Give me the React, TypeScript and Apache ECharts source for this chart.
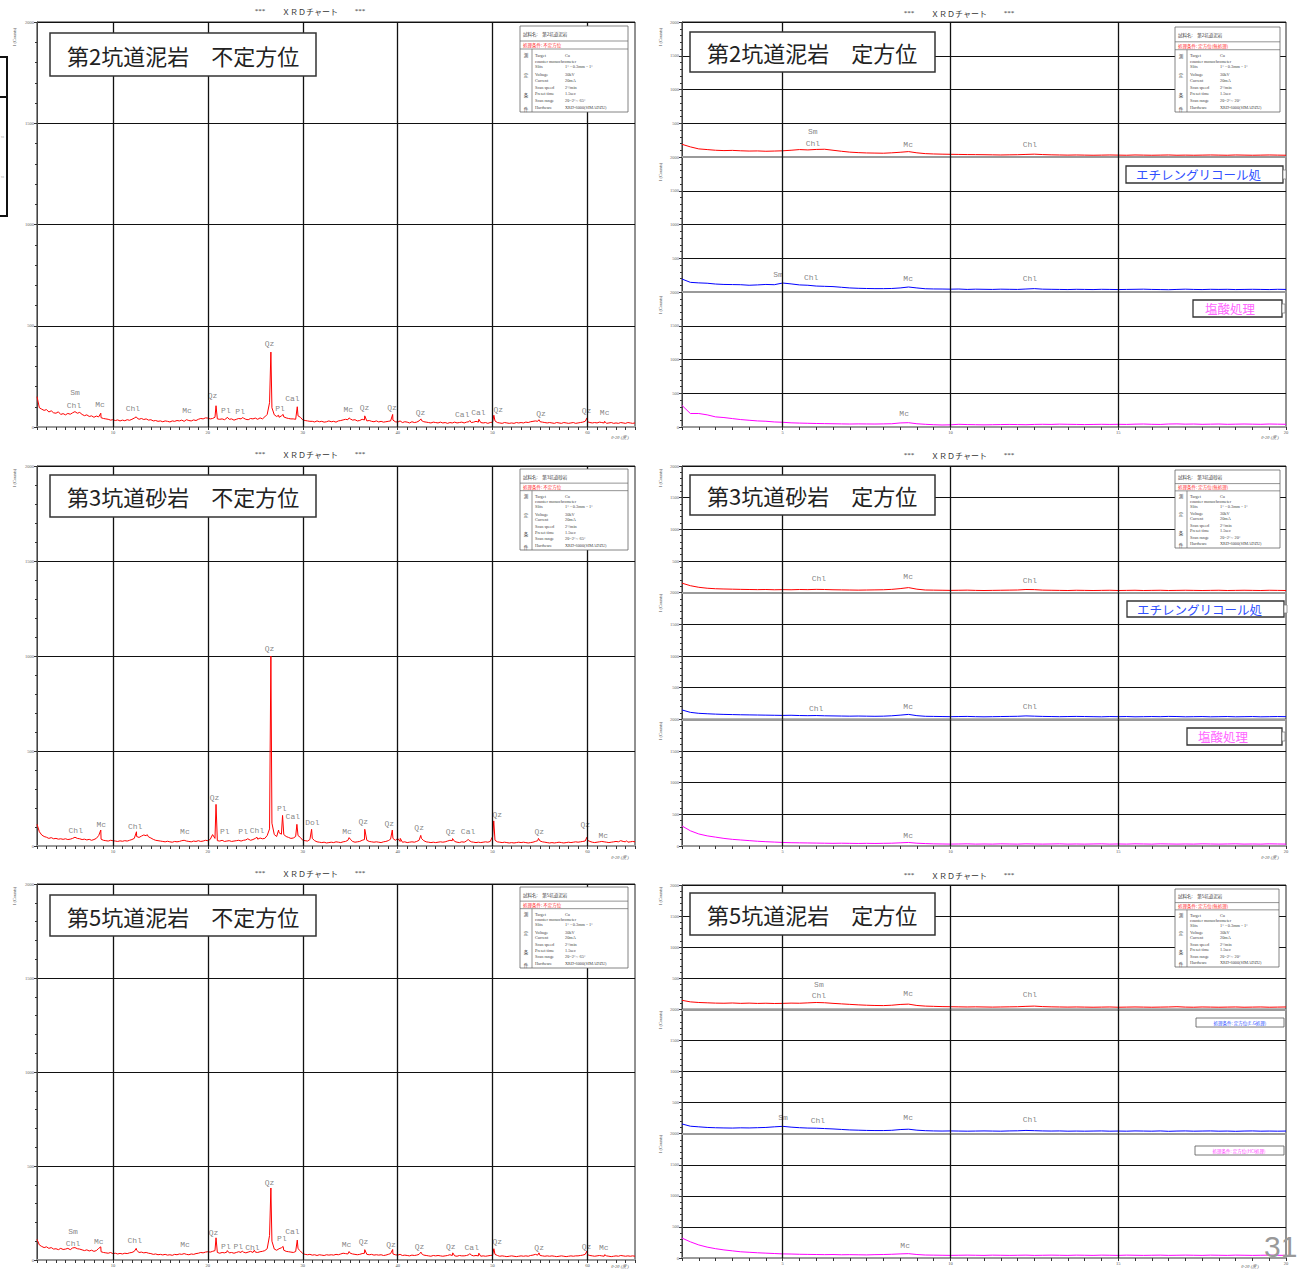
import React, { useEffect, useRef } from 'react';
import * as echarts from 'echarts';

// ---------------- data ----------------
const X_START = 2;
const X_STEP = 0.25;
const LEFT_X_MAX = 65;
const RIGHT_X_MAX = 20;
const LEFT_VLINES = [10, 20, 30, 40, 50, 60];
const RIGHT_VLINES = [5, 10, 15];

// 第2坑道泥岩 不定方位 (2θ = 2..65, step 0.25)
const TL_BASE = [
  150, 95, 88, 82, 86, 74, 80, 70,
  68, 75, 62, 66, 60, 67, 63, 70,
  76, 68, 72, 62, 56, 60, 52, 55,
  48, 54, 50, 46, 42, 40, 38, 34,
  36, 32, 35, 30, 34, 31, 36, 33,
  38, 44, 46, 38, 42, 37, 40, 34,
  36, 30, 32, 28, 30, 26, 30, 28,
  25, 30, 28, 32, 30, 34, 28, 36,
  32, 30, 35, 32, 38, 42, 40, 45,
  44, 40, 42, 48, 40, 38, 40, 36,
  44, 38, 40, 34, 38, 42, 40, 44,
  38, 36, 42, 40, 44, 38, 45, 40,
  50, 62, 120, 95, 60, 52, 48, 55,
  50, 45, 42, 40, 40, 38, 55, 48,
  35, 32, 30, 28, 28, 25, 30, 26,
  28, 24, 26, 30, 26, 28, 24, 30,
  32, 35, 38, 36, 40, 34, 36, 30,
  32, 38, 35, 30, 32, 28, 26, 30,
  25, 28, 24, 26, 28, 30, 34, 26,
  24, 30, 22, 26, 24, 20, 26, 22,
  24, 30, 32, 26, 24, 22, 20, 24,
  22, 20, 24, 20, 22, 18, 22, 20,
  24, 20, 22, 24, 20, 24, 26, 22,
  24, 28, 24, 22, 20, 22, 18, 22,
  24, 30, 22, 20, 18, 22, 20, 18,
  20, 18, 22, 20, 22, 20, 24, 22,
  26, 28, 30, 28, 26, 24, 22, 20,
  22, 20, 18, 22, 20, 18, 22, 20,
  18, 20, 22, 18, 20, 22, 24, 28,
  26, 22, 20, 22, 20, 24, 22, 20,
  18, 20, 22, 18, 20, 18, 22, 20,
  18, 22, 20, 18, 20,
];
const TL_PEAKS = [
  [8.72, 68], [12.45, 50], [20.86, 105], [22.05, 48], [23.62, 46], [26.64, 370],
  [27.45, 58], [27.93, 62], [29.42, 100], [34.88, 45], [36.53, 55], [39.47, 62],
  [42.45, 40], [47.6, 32], [48.55, 38], [50.13, 58], [54.88, 36], [59.95, 45], [61.8, 28],
];
const TL_LABELS: [number, number, string][] = [
  [6.0, 168, 'Sm'], [5.9, 108, 'Chl'], [8.63, 113, 'Mc'], [12.1, 93, 'Chl'], [17.8, 83, 'Mc'],
  [20.5, 158, 'Qz'], [21.9, 83, 'Pl'], [23.4, 78, 'Pl'], [26.5, 413, 'Qz'], [27.6, 93, 'Pl'],
  [28.9, 143, 'Cal'], [34.8, 88, 'Mc'], [36.5, 98, 'Qz'], [39.4, 98, 'Qz'], [42.4, 73, 'Qz'],
  [46.8, 63, 'Cal'], [48.5, 73, 'Cal'], [50.6, 88, 'Qz'], [55.1, 68, 'Qz'], [59.9, 83, 'Qz'],
  [61.8, 73, 'Mc'],
];

// 第3坑道砂岩 不定方位
const ML_BASE = [
  114, 75, 58, 50, 46, 40, 44, 38,
  40, 36, 38, 35, 38, 34, 36, 40,
  46, 40, 38, 34, 36, 32, 35, 30,
  34, 40, 55, 36, 30, 28, 26, 30,
  28, 26, 24, 27, 25, 28, 26, 30,
  34, 40, 50, 45, 52, 58, 54, 48,
  42, 35, 30, 28, 26, 24, 22, 25,
  22, 20, 24, 22, 24, 28, 30, 26,
  24, 22, 26, 24, 28, 24, 26, 30,
  28, 35, 60, 40, 28, 26, 30, 24,
  26, 28, 24, 26, 28, 30, 26, 30,
  32, 36, 30, 34, 40, 36, 42, 38,
  40, 55, 90, 120, 60, 50, 70, 62,
  60, 50, 45, 40, 42, 50, 55, 45,
  30, 28, 26, 34, 40, 28, 22, 20,
  18, 20, 16, 18, 20, 18, 22, 20,
  18, 22, 24, 30, 36, 24, 20, 22,
  24, 30, 34, 30, 24, 22, 20, 22,
  20, 18, 22, 24, 28, 36, 40, 30,
  40, 24, 20, 22, 18, 20, 22, 20,
  24, 30, 40, 28, 22, 20, 18, 20,
  18, 20, 22, 20, 22, 26, 30, 28,
  24, 20, 18, 22, 20, 26, 30, 22,
  20, 18, 20, 18, 20, 22, 20, 24,
  50, 30, 22, 20, 18, 20, 18, 16,
  18, 16, 18, 20, 18, 20, 18, 16,
  18, 20, 24, 28, 26, 22, 20, 18,
  16, 18, 16, 18, 20, 18, 16, 18,
  20, 18, 20, 22, 20, 22, 24, 26,
  30, 24, 20, 18, 20, 22, 24, 22,
  20, 18, 20, 22, 24, 22, 28, 24,
  22, 20, 22, 24, 22,
];
const ML_PEAKS = [
  [8.72, 84], [12.48, 75], [13.6, 60], [20.86, 219], [24.2, 38], [25.18, 46], [26.64, 1000],
  [27.45, 84], [27.87, 161], [29.38, 114], [30.93, 88], [34.88, 44], [36.53, 88], [39.43, 84],
  [40.27, 40], [42.43, 56], [45.78, 39], [47.42, 35], [50.12, 132], [54.83, 40], [59.93, 46], [64.1, 28],
];
const ML_LABELS: [number, number, string][] = [
  [6.08, 82, 'Chl'], [8.78, 114, 'Mc'], [12.34, 105, 'Chl'], [17.58, 75, 'Mc'], [20.71, 254, 'Qz'],
  [21.79, 74, 'Pl'], [23.72, 74, 'Pl'], [25.18, 82, 'Chl'], [26.5, 1042, 'Qz'], [27.79, 198, 'Pl'],
  [28.95, 154, 'Cal'], [31.01, 126, 'Dol'], [34.66, 75, 'Mc'], [36.38, 128, 'Qz'], [39.12, 119, 'Qz'],
  [42.26, 96, 'Qz'], [45.56, 75, 'Qz'], [47.41, 74, 'Cal'], [50.5, 167, 'Qz'], [54.92, 75, 'Qz'],
  [59.77, 114, 'Qz'], [61.66, 56, 'Mc'],
];

// 第5坑道泥岩 不定方位
const BL_BASE = [
  110, 80, 72, 66, 70, 62, 66, 58,
  60, 55, 62, 56, 58, 62, 55, 64,
  66, 60, 58, 54, 50, 54, 48, 52,
  46, 50, 62, 44, 40, 38, 36, 40,
  34, 36, 32, 35, 32, 36, 34, 38,
  40, 46, 52, 40, 42, 38, 40, 36,
  34, 30, 32, 28, 30, 27, 30, 26,
  28, 25, 30, 28, 32, 30, 34, 30,
  28, 32, 30, 34, 36, 40, 38, 42,
  44, 42, 46, 50, 40, 36, 40, 38,
  42, 38, 40, 36, 40, 44, 40, 42,
  38, 42, 46, 40, 42, 40, 44, 46,
  50, 60, 130, 100, 58, 52, 60, 65,
  52, 46, 44, 42, 40, 45, 60, 48,
  34, 30, 28, 30, 26, 28, 24, 28,
  26, 24, 28, 26, 28, 26, 30, 28,
  32, 36, 34, 32, 36, 32, 30, 28,
  30, 34, 36, 30, 28, 30, 26, 28,
  26, 28, 24, 26, 30, 34, 32, 28,
  26, 30, 24, 26, 24, 22, 26, 24,
  26, 30, 34, 26, 24, 22, 20, 24,
  22, 24, 22, 20, 22, 24, 28, 24,
  22, 20, 24, 22, 22, 24, 28, 26,
  22, 24, 22, 20, 22, 20, 22, 24,
  26, 30, 24, 20, 22, 20, 18, 20,
  22, 20, 18, 20, 22, 20, 22, 20,
  24, 26, 30, 26, 24, 22, 20, 22,
  20, 22, 20, 18, 20, 22, 20, 18,
  20, 22, 20, 22, 22, 24, 26, 30,
  28, 24, 22, 20, 22, 24, 22, 20,
  22, 20, 18, 20, 22, 20, 24, 22,
  20, 22, 20, 22, 20,
];
const BL_PEAKS = [
  [8.72, 70], [12.45, 62], [20.86, 118], [22.05, 50], [23.62, 48], [24.9, 52], [26.64, 383],
  [27.93, 72], [29.42, 106], [34.88, 45], [36.53, 55], [39.47, 56], [42.45, 42], [45.8, 38],
  [47.6, 34], [48.55, 36], [50.13, 60], [54.88, 38], [59.95, 48], [61.8, 28],
];
const BL_LABELS: [number, number, string][] = [
  [5.8, 154, 'Sm'], [5.8, 90, 'Chl'], [8.5, 96, 'Mc'], [12.3, 106, 'Chl'], [17.6, 80, 'Mc'],
  [20.6, 144, 'Qz'], [21.9, 74, 'Pl'], [23.2, 74, 'Pl'], [24.7, 69, 'Chl'], [26.5, 410, 'Qz'],
  [27.8, 117, 'Pl'], [28.9, 154, 'Cal'], [34.6, 80, 'Mc'], [36.4, 96, 'Qz'], [39.3, 80, 'Qz'],
  [42.3, 74, 'Qz'], [45.6, 74, 'Qz'], [47.8, 64, 'Cal'], [50.5, 96, 'Qz'], [54.9, 64, 'Qz'],
  [59.9, 74, 'Qz'], [61.7, 64, 'Mc'],
];

// 定方位 (2θ = 2..20, step 0.25): untreated (red), EG (blue), HCl (magenta)
const R1_RED = [
  188, 150, 120, 110, 100, 95, 98, 92,
  88, 90, 85, 88, 92, 100, 110, 105,
  112, 115, 100, 85, 72, 65, 60, 58,
  56, 62, 70, 80, 62, 50, 45, 42,
  40, 38, 36, 35, 34, 32, 30, 32,
  34, 38, 42, 36, 32, 30, 28, 30,
  28, 26, 28, 30, 28, 26, 30, 28,
  26, 28, 30, 26, 28, 26, 28, 30,
  28, 26, 30, 28, 26, 28, 30, 28,
  26,
];
const R1_BLUE = [
  192, 143, 135, 130, 118, 112, 110, 108,
  100, 105, 112, 108, 133, 120, 105, 100,
  88, 84, 80, 70, 60, 55, 52, 50,
  50, 52, 60, 74, 60, 48, 45, 44,
  42, 44, 38, 42, 40, 38, 42, 40,
  38, 44, 50, 42, 40, 38, 36, 40,
  38, 36, 40, 38, 36, 38, 40, 42,
  38, 36, 34, 38, 42, 38, 36, 40,
  38, 40, 36, 38, 40, 38, 36, 40,
  38,
];
const R1_MAG = [
  320, 200, 200, 180, 150, 140, 125, 110,
  100, 90, 85, 75, 70, 62, 58, 55,
  52, 50, 48, 46, 44, 46, 45, 44,
  46, 48, 60, 64, 48, 40, 34, 30,
  32, 40, 36, 34, 32, 34, 36, 38,
  36, 34, 38, 40, 38, 42, 40, 38,
  36, 38, 40, 38, 40, 38, 42, 44,
  40, 38, 44, 46, 42, 44, 40, 42,
  44, 40, 42, 44, 42, 40, 44, 42,
  40,
];
const R2_RED = [
  150, 110, 85, 70, 62, 58, 55, 52,
  50, 48, 50, 46, 48, 46, 50, 48,
  52, 50, 46, 44, 42, 40, 42, 44,
  46, 52, 64, 80, 55, 42, 40, 38,
  36, 38, 40, 36, 34, 36, 38, 40,
  42, 50, 48, 40, 38, 36, 34, 38,
  36, 34, 36, 38, 34, 36, 38, 34,
  36, 38, 34, 36, 38, 36, 34, 36,
  38, 34, 36, 38, 36, 34, 38, 36,
  34,
];
const R2_BLUE = [
  148, 110, 95, 88, 82, 78, 75, 72,
  70, 68, 66, 64, 62, 64, 60, 58,
  60, 56, 54, 52, 50, 52, 50, 48,
  50, 56, 66, 78, 58, 48, 46, 44,
  42, 44, 46, 42, 40, 42, 44, 46,
  48, 54, 50, 46, 44, 42, 44, 46,
  44, 42, 40, 44, 42, 44, 40, 42,
  44, 42, 46, 44, 40, 42, 44, 40,
  42, 44, 40, 42, 44, 40, 42, 44,
  42,
];
const R2_MAG = [
  316, 240, 190, 160, 140, 120, 105, 95,
  85, 75, 68, 62, 56, 52, 50, 48,
  46, 44, 42, 44, 42, 40, 42, 40,
  42, 44, 50, 56, 44, 38, 34, 32,
  30, 32, 34, 30, 32, 30, 34, 32,
  30, 34, 32, 30, 32, 34, 30, 32,
  30, 32, 34, 30, 32, 30, 34, 32,
  30, 34, 32, 30, 32, 30, 34, 32,
  30, 32, 34, 30, 32, 30, 34, 32,
  30,
];
const R3_RED = [
  145, 120, 110, 105, 100, 98, 102, 96,
  100, 95, 98, 94, 96, 100, 98, 104,
  110, 106, 96, 88, 80, 72, 66, 62,
  60, 66, 78, 84, 62, 52, 48, 44,
  42, 40, 38, 40, 38, 36, 38, 40,
  42, 48, 52, 44, 40, 38, 36, 38,
  36, 34, 36, 38, 34, 36, 38, 36,
  34, 36, 38, 42, 36, 34, 38, 36,
  34, 36, 38, 34, 36, 38, 34, 36,
  38,
];
const R3_BLUE = [
  156, 120, 110, 100, 95, 92, 90, 94,
  92, 96, 100, 110, 118, 105, 96, 90,
  88, 82, 76, 68, 60, 56, 52, 50,
  50, 54, 66, 72, 56, 48, 44, 42,
  44, 42, 40, 42, 44, 42, 40, 44,
  46, 52, 48, 44, 42, 44, 40, 42,
  40, 42, 44, 40, 42, 40, 44, 42,
  40, 44, 38, 42, 44, 40, 42, 44,
  40, 42, 38, 42, 44, 40, 42, 40,
  42,
];
const R3_MAG = [
  320, 260, 210, 175, 150, 130, 115, 100,
  92, 84, 78, 72, 66, 64, 60, 58,
  56, 54, 56, 52, 54, 52, 50, 54,
  56, 60, 66, 70, 56, 48, 46, 44,
  42, 44, 46, 44, 42, 46, 44, 42,
  44, 46, 42, 44, 46, 44, 42, 46,
  44, 42, 46, 44, 42, 46, 44, 42,
  44, 46, 42, 44, 46, 44, 42, 46,
  44, 42, 46, 44, 42, 44, 46, 44,
  42,
];

const R1_RED_LABELS: [number, number, string][] = [[5.9, 385, 'Sm'], [5.9, 207, 'Chl'], [8.74, 192, 'Mc'], [12.37, 192, 'Chl']];
const R1_BLUE_LABELS: [number, number, string][] = [[4.86, 252, 'Sm'], [5.85, 222, 'Chl'], [8.74, 207, 'Mc'], [12.37, 207, 'Chl']];
const R1_MAG_LABELS: [number, number, string][] = [[8.62, 207, 'Mc']];
const R2_RED_LABELS: [number, number, string][] = [[6.08, 216, 'Chl'], [8.74, 248, 'Mc'], [12.37, 200, 'Chl']];
const R2_BLUE_LABELS: [number, number, string][] = [[6.0, 178, 'Chl'], [8.74, 210, 'Mc'], [12.37, 210, 'Chl']];
const R2_MAG_LABELS: [number, number, string][] = [[8.74, 158, 'Mc']];
const R3_RED_LABELS: [number, number, string][] = [[6.08, 407, 'Sm'], [6.08, 230, 'Chl'], [8.74, 262, 'Mc'], [12.37, 246, 'Chl']];
const R3_BLUE_LABELS: [number, number, string][] = [[5.01, 253, 'Sm'], [6.05, 219, 'Chl'], [8.74, 253, 'Mc'], [12.37, 235, 'Chl']];
const R3_MAG_LABELS: [number, number, string][] = [[8.65, 209, 'Mc']];

const SAMPLES = ['第2坑道泥岩', '第3坑道砂岩', '第5坑道泥岩'];

// ---------------- helpers ----------------
function toPairs(base: number[], peaks: number[][]) {
  const pts = base.map((v, i) => [X_START + i * X_STEP, v]);
  peaks.forEach((p) => pts.push([p[0], p[1]]));
  pts.sort((a, b) => a[0] - b[0]);
  return pts;
}

const SERIF = 'Liberation Serif';
const CJK = 'Noto Sans CJK JP';
const MONO = 'Liberation Mono';

function txt(x: number, y: number, text: string, size: number, fill: string, extra: any = {}) {
  return {
    type: 'text', x, y, z: 100, silent: true,
    rotation: extra.rotation || 0,
    style: {
      text, fontSize: size, fill, fontFamily: extra.font || SERIF,
      align: extra.align || 'left', verticalAlign: 'middle', fontStyle: extra.italic ? 'italic' : 'normal',
    },
  };
}
function rect(x: number, y: number, w: number, h: number, stroke: string, lw: number, fill: string) {
  return { type: 'rect', z: 99, silent: true, shape: { x, y, width: w, height: h }, style: { fill, stroke, lineWidth: lw } };
}
function ln(x1: number, y1: number, x2: number, y2: number, stroke = '#666', lw = 0.7) {
  return { type: 'line', z: 100, silent: true, shape: { x1, y1, x2, y2 }, style: { stroke, lineWidth: lw } };
}

function infoBox(x: number, y: number, w: number, h: number, sample: string, cond: string, range: string) {
  const k = h / 86;
  const els: any[] = [rect(x, y, w, h, '#666', 0.8, '#fff')];
  els.push(ln(x, y + 15 * k, x + w, y + 15 * k));
  els.push(ln(x, y + 23 * k, x + w, y + 23 * k));
  els.push(ln(x + 12, y + 23 * k, x + 12, y + h));
  els.push(txt(x + 3, y + 8 * k, '試料名:　' + sample, 4.5, '#444', { font: CJK }));
  els.push(txt(x + 3, y + 19 * k, '処理条件: ' + cond, 4.5, '#ff3030', { font: CJK }));
  const chars = ['測', '定', '条', '件'];
  const cy = [29, 49, 69, 83];
  chars.forEach((c, i) => els.push(txt(x + 6, y + cy[i] * k, c, 4.5, '#444', { font: CJK, align: 'center' })));
  const rows: [string, string, number][] = [
    ['Target', 'Cu', 29], ['counter monochrometer', '', 35], ['Slits', '1°－0.3mm－1°', 40],
    ['Voltage', '30kV', 48], ['Current', '20mA', 54], ['Scan speed', '2°/min', 61],
    ['Preset time', '1.5sec', 67], ['Scan range', '2θ=2°～' + range, 74], ['Hardware', 'XRD-6000(SIMADZU)', 81],
  ];
  rows.forEach((r) => {
    els.push(txt(x + 15, y + r[2] * k, r[0], 4.3, '#444'));
    if (r[1]) els.push(txt(x + 45, y + r[2] * k, r[1], 4.3, '#444'));
  });
  return els;
}

function starTitle(cx: number, cy: number) {
  return [
    txt(cx - 50, cy, '***', 7, '#333', { align: 'center' }),
    txt(cx, cy, 'ＸＲＤチャート', 8, '#333', { align: 'center', font: CJK }),
    txt(cx + 50, cy, '***', 7, '#333', { align: 'center' }),
  ];
}

function titleBox(x: number, y: number, w: number, h: number, text: string) {
  return [
    { ...rect(x, y, w, h, '#333', 1.5, '#fff') },
    txt(x + 17, y + h / 2, text, 22, '#222', { font: CJK }),
  ];
}

function buildOption() {
  const grids: any[] = [];
  const xAxes: any[] = [];
  const yAxes: any[] = [];
  const series: any[] = [];

  const addPlot = (o: any) => {
    const idx = grids.length;
    grids.push({ left: o.left, top: o.top, width: o.width, height: o.height, show: true, borderColor: '#222', borderWidth: 1, backgroundColor: 'transparent' });
    xAxes.push({
      gridIndex: idx, type: 'value', min: X_START, max: o.xMax, interval: o.tick,
      axisLine: { show: true, onZero: false, lineStyle: { color: '#9a9a9a', width: 2 } },
      axisTick: { show: o.showX, length: 3, lineStyle: { color: '#333', width: 1 } },
      axisLabel: {
        show: o.showX, fontSize: 4.5, color: '#555', margin: 3, fontFamily: SERIF,
        formatter: (v: number) => (Math.abs(v % o.labelEvery) < 1e-6 ? String(v) : ''),
      },
      splitLine: { show: false },
    });
    yAxes.push({
      gridIndex: idx, type: 'value', min: 0, max: 2000, interval: 500,
      axisLine: { show: true, lineStyle: { color: '#444', width: 1 } },
      axisTick: { show: true, length: 3, lineStyle: { color: '#333' } },
      minorTick: { show: true, splitNumber: 5, length: 2, lineStyle: { color: '#333' } },
      axisLabel: {
        fontSize: 4.5, color: '#666', margin: 3, fontFamily: SERIF,
        formatter: (v: number) => (o.hideZero && v === 0 ? '' : String(v)),
      },
      splitLine: { show: true, lineStyle: { color: '#111', width: 1.2 } },
    });
    series.push({
      type: 'line', xAxisIndex: idx, yAxisIndex: idx, data: o.data, symbol: 'none', showSymbol: false,
      lineStyle: { color: o.color, width: 1 }, silent: true, z: 3,
      markLine: {
        silent: true, symbol: ['none', 'none'], label: { show: false },
        lineStyle: { color: '#111', width: 1.3, type: 'solid' },
        data: o.vlines.map((v: number) => ({ xAxis: v })),
      },
    });
    series.push({
      type: 'scatter', xAxisIndex: idx, yAxisIndex: idx, symbolSize: 0, silent: true, z: 4,
      data: o.labels.map((l: [number, number, string]) => ({ value: [l[0], l[1]], name: l[2] })),
      label: { show: true, position: 'inside', formatter: '{b}', fontSize: 8, fontFamily: MONO, color: '#666' },
    });
  };

  const LEFT = [
    { top: 22, height: 405, base: TL_BASE, peaks: TL_PEAKS, labels: TL_LABELS },
    { top: 466, height: 380, base: ML_BASE, peaks: ML_PEAKS, labels: ML_LABELS },
    { top: 884, height: 376, base: BL_BASE, peaks: BL_PEAKS, labels: BL_LABELS },
  ];
  LEFT.forEach((p) => addPlot({
    left: 37, top: p.top, width: 598, height: p.height, xMax: LEFT_X_MAX, tick: 1, labelEvery: 10,
    showX: true, hideZero: false, vlines: LEFT_VLINES, color: '#ff0000', data: toPairs(p.base, p.peaks), labels: p.labels,
  }));

  const RIGHT = [
    { top: 22, height: 405, subs: [[R1_RED, R1_RED_LABELS], [R1_BLUE, R1_BLUE_LABELS], [R1_MAG, R1_MAG_LABELS]] },
    { top: 466, height: 380, subs: [[R2_RED, R2_RED_LABELS], [R2_BLUE, R2_BLUE_LABELS], [R2_MAG, R2_MAG_LABELS]] },
    { top: 885, height: 373, subs: [[R3_RED, R3_RED_LABELS], [R3_BLUE, R3_BLUE_LABELS], [R3_MAG, R3_MAG_LABELS]] },
  ];
  const SUB_COLORS = ['#ff0000', '#0000ff', '#ff00ff'];
  RIGHT.forEach((p) => {
    const sh = p.height / 3;
    p.subs.forEach((s: any, j: number) => addPlot({
      left: 682, top: p.top + j * sh, width: 604, height: sh, xMax: RIGHT_X_MAX, tick: 0.5, labelEvery: 5,
      showX: j === 2, hideZero: j < 2, vlines: RIGHT_VLINES, color: SUB_COLORS[j], data: toPairs(s[0], []), labels: s[1],
    }));
  });

  const g: any[] = [];
  // page artifacts
  g.push({ type: 'rect', z: 99, silent: true, shape: { x: -3, y: 57, width: 10, height: 159 }, style: { fill: 'none', stroke: '#111', lineWidth: 2 } });
  g.push(ln(0, 97, 7, 97, '#111', 2));
  g.push(txt(1, 137, 'xx', 3, '#999'));
  g.push(txt(1, 177, 'xx', 3, '#999'));
  g.push(txt(1264, 1246, '31', 30, '#999', { font: 'Liberation Sans' }));

  const rowsY = [[11, 13], [454, 455], [873, 875]];
  rowsY.forEach((r) => { g.push(...starTitle(310, r[0])); g.push(...starTitle(959, r[1])); });

  // y-axis names
  [37, 478, 896].forEach((y) => g.push(txt(14, y, 'I (Counts)', 4.5, '#555', { rotation: Math.PI / 2, align: 'center' })));
  [37, 172, 305, 478, 603, 731, 896, 1020, 1144].forEach((y) => g.push(txt(660, y, 'I (Counts)', 4.5, '#555', { rotation: Math.PI / 2, align: 'center' })));
  // x-axis names
  [437, 857, 1266].forEach((y) => {
    g.push(txt(620, y, 'θ-2θ (度)', 4.5, '#555', { italic: true, align: 'center' }));
  });
  [437, 857].forEach((y) => {
    g.push(txt(1270, y, 'θ-2θ (度)', 4.5, '#555', { italic: true, align: 'center' }));
  });
  g.push(txt(1250, 1266, 'θ-2θ (度)', 4.5, '#555', { italic: true, align: 'center' }));

  // title boxes
  g.push(...titleBox(50, 33, 266, 43, SAMPLES[0] + '　不定方位'));
  g.push(...titleBox(690, 32, 245, 40, SAMPLES[0] + '　定方位'));
  g.push(...titleBox(50, 475, 266, 42, SAMPLES[1] + '　不定方位'));
  g.push(...titleBox(690, 475, 245, 40, SAMPLES[1] + '　定方位'));
  g.push(...titleBox(50, 895, 266, 41, SAMPLES[2] + '　不定方位'));
  g.push(...titleBox(690, 893, 245, 42, SAMPLES[2] + '　定方位'));

  // info boxes
  g.push(...infoBox(520, 26, 108, 86, SAMPLES[0], '不定方位', '65°'));
  g.push(...infoBox(1175, 27, 105, 85, SAMPLES[0], '定方位(無処理)', '20°'));
  g.push(...infoBox(520, 469, 108, 81, SAMPLES[1], '不定方位', '65°'));
  g.push(...infoBox(1175, 470, 105, 78, SAMPLES[1], '定方位(無処理)', '20°'));
  g.push(...infoBox(520, 887, 108, 81, SAMPLES[2], '不定方位', '65°'));
  g.push(...infoBox(1175, 889, 104, 78, SAMPLES[2], '定方位(無処理)', '20°'));

  // treatment boxes
  const treat = (x: number, y: number, w: number, h: number, text: string, color: string, size: number, tx: number) => {
    g.push(rect(x, y, w, h, '#333', 1.3, '#fff'));
    g.push(rect(x + w, y + 4, 3, h - 8, '#777', 0.7, '#fff'));
    g.push(txt(tx, y + h / 2, text, size, color, { font: CJK }));
  };
  treat(1126, 166, 157, 17, 'エチレングリコール処', '#3050ff', 12.5, 1136);
  treat(1193, 300, 89, 17, '塩酸処理', '#ff66ff', 12.5, 1205);
  treat(1127, 601, 157, 16, 'エチレングリコール処', '#3050ff', 12.5, 1137);
  treat(1187, 728, 95, 17, '塩酸処理', '#ff66ff', 12.5, 1198);
  g.push(rect(1196, 1018, 88, 9, '#555', 0.8, '#fff'));
  g.push(txt(1240, 1022.5, '処理条件: 定方位(E.G処理)', 4.5, '#3050ff', { font: CJK, align: 'center' }));
  g.push(rect(1195, 1146, 89, 9, '#555', 0.8, '#fff'));
  g.push(txt(1239, 1150.5, '処理条件: 定方位(HCl処理)', 4.5, '#ff44ff', { font: CJK, align: 'center' }));

  return {
    animation: false,
    backgroundColor: '#fff',
    grid: grids,
    xAxis: xAxes,
    yAxis: yAxes,
    series,
    graphic: { elements: g },
  };
}

export default function App() {
  const ref = useRef<HTMLDivElement>(null);
  useEffect(() => {
    document.body.style.margin = '0';
    const chart = echarts.init(ref.current as HTMLDivElement, null, { renderer: 'svg' });
    chart.setOption(buildOption() as any);
    return () => chart.dispose();
  }, []);
  return (
    <div
      ref={ref}
      style={{ position: 'absolute', left: 0, top: 0, width: 1297, height: 1269, background: '#fff', overflow: 'hidden' }}
    />
  );
}
